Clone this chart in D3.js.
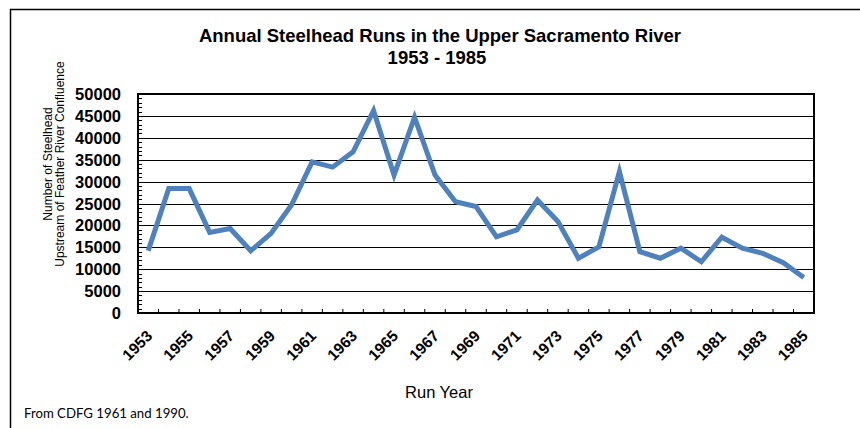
<!DOCTYPE html>
<html><head><meta charset="utf-8">
<script src="https://cdn.jsdelivr.net/npm/d3@7"></script>
<style>body{margin:0;background:#fff}svg{display:block}
.a{font-family:"Liberation Sans",Arimo,Arial,"DejaVu Sans",sans-serif}
.f{font-family:Lato,"Open Sans",sans-serif}</style>
</head><body>
<svg id="c" width="860" height="428"></svg>
<script>
const years = d3.range(1953, 1986);
const runs = [14200, 28400, 28400, 18400, 19300, 14200, 18200, 24700, 34500, 33300, 36800, 46200, 31500, 44700, 31500, 25400, 24300, 17400, 19000, 25800, 20900, 12500, 15100, 32300, 14000, 12500, 14800, 11700, 17300, 14800, 13600, 11500, 8100];
const yTicks = [0,5000,10000,15000,20000,25000,30000,35000,40000,45000,50000];
const xLabels = years.filter((y,i)=>i%2===0);

const svg = d3.select("#c");
const L=138, R=814, T=94, B=313;
const x = d3.scaleBand().domain(years).range([L,R]);
const y = d3.scaleLinear().domain([0,50000]).range([B,T]);

svg.append("rect").attr("x",10.5).attr("y",9.5).attr("width",900).attr("height",500)
  .attr("fill","none").attr("stroke","#000").attr("stroke-width",1.5);

svg.append("g").selectAll("line").data(yTicks.slice(1)).join("line")
  .attr("x1",L).attr("x2",R).attr("y1",d=>Math.round(y(d))+0.5).attr("y2",d=>Math.round(y(d))+0.5)
  .attr("stroke","#000").attr("stroke-width",1);

svg.append("g").selectAll("line").data(d3.range(0,50001,1000)).join("line")
  .attr("x1",L).attr("x2",L+4).attr("y1",d=>Math.round(y(d))+0.5).attr("y2",d=>Math.round(y(d))+0.5)
  .attr("stroke","#000").attr("stroke-width",1);

svg.append("rect").attr("x",L).attr("y",T).attr("width",R-L).attr("height",B-T)
  .attr("fill","none").attr("stroke","#000").attr("stroke-width",2);

svg.append("g").selectAll("text").data(yTicks).join("text").attr("class","a")
  .attr("x",121).attr("y",d=>y(d)+6).attr("text-anchor","end")
  .attr("font-weight","bold").attr("font-size",16.5)
  .text(d=>d);

svg.append("g").selectAll("line").data(years.slice(1)).join("line")
  .attr("x1",d=>x(d)).attr("x2",d=>x(d)).attr("y1",B).attr("y2",B-4)
  .attr("stroke","#000").attr("stroke-width",1);

svg.append("g").selectAll("text").data(xLabels).join("text").attr("class","a")
  .attr("transform",d=>`translate(${x(d)+x.bandwidth()/2+5},${B+24}) rotate(-45)`)
  .attr("text-anchor","end")
  .attr("font-weight","bold").attr("font-size",15.5)
  .text(d=>d);

const line = d3.line().x((d,i)=>x(years[i])+x.bandwidth()/2).y(d=>y(d));
svg.append("path").datum(runs).attr("d",line).attr("fill","none")
  .attr("stroke","#4F81BD").attr("stroke-width",5).attr("stroke-linejoin","miter");

svg.append("text").attr("class","a").attr("x",440).attr("y",42).attr("text-anchor","middle")
  .attr("font-weight","bold").attr("font-size",18.5)
  .text("Annual Steelhead Runs in the Upper Sacramento River");
svg.append("text").attr("class","a").attr("x",437).attr("y",64).attr("text-anchor","middle")
  .attr("font-weight","bold").attr("font-size",18.5)
  .text("1953 - 1985");

svg.append("text").attr("class","a").attr("transform","translate(52,164) rotate(-90)").attr("text-anchor","middle")
  .attr("font-size",12).text("Number of Steelhead");
svg.append("text").attr("class","a").attr("transform","translate(64,164) rotate(-90)").attr("text-anchor","middle")
  .attr("font-size",12).text("Upstream of Feather River Confluence");

svg.append("text").attr("class","a").attr("x",439).attr("y",398).attr("text-anchor","middle")
  .attr("font-size",16.5).text("Run Year");

svg.append("text").attr("class","f").attr("x",24).attr("y",418)
  .attr("font-size",13.2).text("From CDFG 1961 and 1990.");
</script>
</body></html>
